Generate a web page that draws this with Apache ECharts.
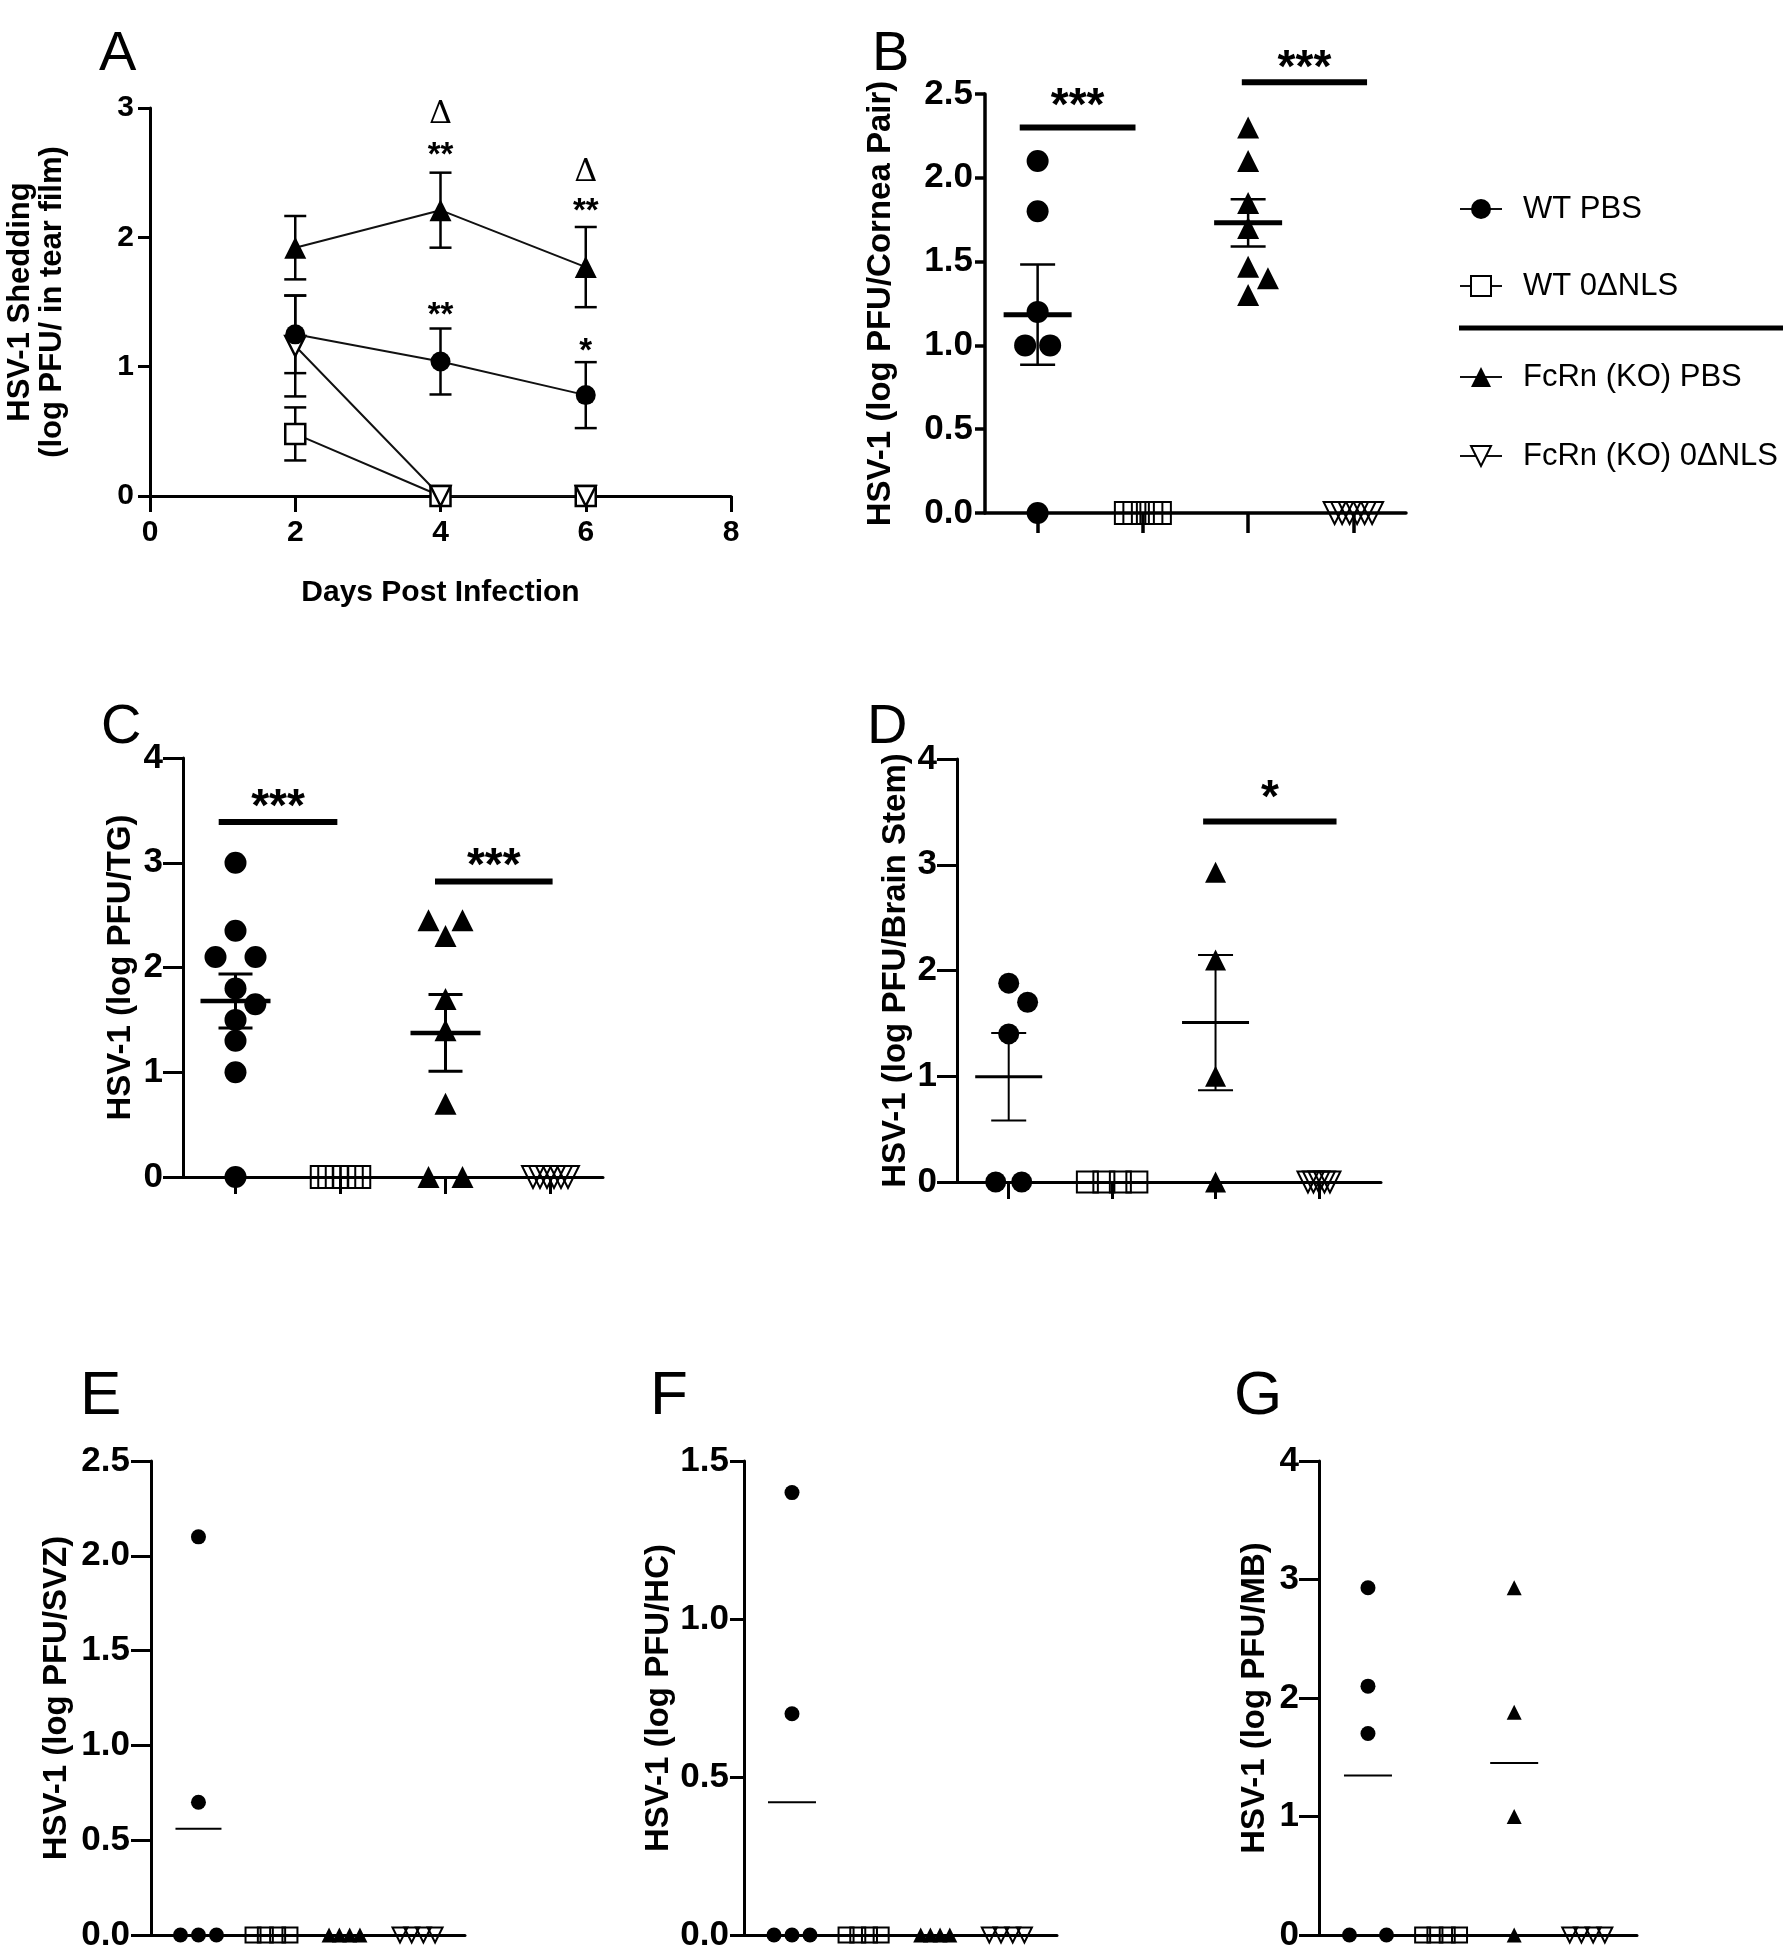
<!DOCTYPE html>
<html><head><meta charset="utf-8">
<script src="https://cdn.jsdelivr.net/npm/echarts@6/dist/echarts.min.js"></script>
<style>html,body{margin:0;padding:0;background:#fff}#c{width:1783px;height:1950px}</style>
</head><body><div id="c"></div>
<script>
// ================= DATA =================
const GROUPS = ['WT PBS', 'WT 0ΔNLS', 'FcRn (KO) PBS', 'FcRn (KO) 0ΔNLS'];

// Panel A: tear-film shedding (mean ± SEM) by day post infection
const A_days = [2, 4, 6];
const A_wtPbs_mean = [1.25, 1.04, 0.78];
const A_wtPbs_sem  = [0.30, 0.255, 0.255];
const A_wtNls_mean = [0.48, 0, 0];
const A_wtNls_sem  = [0.205, 0, 0];
const A_koPbs_mean = [1.92, 2.21, 1.77];
const A_koPbs_sem  = [0.245, 0.29, 0.31];
const A_koNls_mean = [1.16, 0, 0];
const A_koNls_sem  = [0.39, 0, 0];
const A_xTicks = [0, 8, 2];      // min, max, step
const A_yTicks = [0, 3, 1];
const A_marks = [[4, 2.95, 'Δ'], [4, 2.70, '**'], [4, 1.46, '**'], [6, 2.50, 'Δ'], [6, 2.27, '**'], [6, 1.18, '*']];

// Panel B: cornea pair
const B_wtPbs = [2.1, 1.8, 1.2, 1.0, 1.0, 0];
const B_wtNls = [0, 0, 0, 0, 0];
const B_koPbs = [2.3, 2.1, 1.85, 1.7, 1.47, 1.4, 1.3];
const B_koNls = [0, 0, 0, 0, 0, 0];
const B_yTicks = [0, 2.5, 0.5];
const B_sig = [[0.83, 1.93, 2.30, 2.49, '***'], [2.94, 4.13, 2.57, 2.72, '***']];

// Panel C: TG
const C_wtPbs = [3.0, 2.35, 2.1, 2.1, 1.8, 1.65, 1.5, 1.3, 1.0, 0];
const C_wtNls = [0, 0, 0, 0, 0, 0];
const C_koPbs = [2.45, 2.45, 2.3, 1.7, 1.4, 0.7, 0, 0];
const C_koNls = [0, 0, 0, 0, 0, 0];
const C_yTicks = [0, 4, 1];
const C_sig = [[0.84, 1.97, 3.39, 3.63, '***'], [2.90, 4.02, 2.82, 3.07, '***']];

// Panel D: brain stem
const D_wtPbs = [1.88, 1.7, 1.4, 0, 0];
const D_wtNls = [0, 0, 0, 0];
const D_koPbs = [2.93, 2.1, 1.0, 0];
const D_koNls = [0, 0, 0, 0, 0];
const D_yTicks = [0, 4, 1];
const D_sig = [[2.88, 4.17, 3.41, 3.73, '*']];

// Panel E: SVZ
const E_wtPbs = [2.1, 0.7, 0, 0, 0];
const E_wtNls = [0, 0, 0, 0];
const E_koPbs = [0, 0, 0, 0];
const E_koNls = [0, 0, 0, 0];
const E_yTicks = [0, 2.5, 0.5];

// Panel F: HC
const F_wtPbs = [1.4, 0.7, 0, 0, 0];
const F_wtNls = [0, 0, 0, 0];
const F_koPbs = [0, 0, 0, 0];
const F_koNls = [0, 0, 0, 0];
const F_yTicks = [0, 1.5, 0.5];

// Panel G: MB
const G_wtPbs = [2.93, 2.1, 1.7, 0, 0];
const G_wtNls = [0, 0, 0, 0];
const G_koPbs = [2.93, 1.88, 1.0, 0];
const G_koNls = [0, 0, 0, 0];
const G_yTicks = [0, 4, 1];

// ================= LAYOUT / STYLE =================
const FONT = '"Liberation Sans", Arial, Helvetica, sans-serif';
const INV = 'path://M0,0 L20,0 L10,17.3 Z';
const SYMS = ['circle', 'rect', 'triangle', INV];
const OPEN = [false, true, false, true];

// rowStep: horizontal pixel spacing of tied values, per group
const PANELS = [
  {key: 'B', vals: [B_wtPbs, B_wtNls, B_koPbs, B_koNls], ticks: B_yTicks, sig: B_sig, dec: 1,
   title: 'HSV-1 (log PFU/Cornea Pair)', g: {left: 985, top: 94, width: 421, height: 419}, xr: [0.5, 4.5],
   nameGap: 88, size: 22, rowStep: [25, 8.5, 22, 7.5], sem: true, meanW: 68, capW: 35, meanLW: 5, errLW: 2.5,
   axisLW: 3.5, tickLen: 10, xTick: 20, margin: 12},
  {key: 'C', vals: [C_wtPbs, C_wtNls, C_koPbs, C_koNls], ticks: C_yTicks, sig: C_sig, dec: 0,
   title: 'HSV-1 (log PFU/TG)', g: {left: 183, top: 758, width: 420, height: 419}, xr: [0.5, 4.5],
   nameGap: 46, size: 22, rowStep: [40, 7.5, 34, 7], sem: true, meanW: 70, capW: 34, meanLW: 4.5, errLW: 3,
   axisLW: 3, tickLen: 20, xTick: 17, margin: 20},
  {key: 'D', vals: [D_wtPbs, D_wtNls, D_koPbs, D_koNls], ticks: D_yTicks, sig: D_sig, dec: 0,
   title: 'HSV-1 (log PFU/Brain Stem)', g: {left: 957, top: 759, width: 424, height: 423}, xr: [0.5, 4.6],
   nameGap: 45, size: 21, rowStep: [26, 16.5, 22, 5.5], sem: true, meanW: 67, capW: 35, meanLW: 3, errLW: 2,
   axisLW: 3, tickLen: 20, xTick: 17, margin: 20},
  {key: 'E', vals: [E_wtPbs, E_wtNls, E_koPbs, E_koNls], ticks: E_yTicks, sig: [], dec: 1,
   title: 'HSV-1 (log PFU/SVZ)', g: {left: 151, top: 1461, width: 314, height: 474}, xr: [0.35, 4.65],
   nameGap: 78, size: 15, rowStep: [18, 12.3, 10.3, 11.7], sem: false, meanW: 46, capW: 0, meanLW: 2, errLW: 0,
   axisLW: 3, tickLen: 20, xTick: 0, margin: 21},
  {key: 'F', vals: [F_wtPbs, F_wtNls, F_koPbs, F_koNls], ticks: F_yTicks, sig: [], dec: 1,
   title: 'HSV-1 (log PFU/HC)', g: {left: 744, top: 1461, width: 313, height: 474}, xr: [0.33, 4.7],
   nameGap: 69, size: 15, rowStep: [18, 11.7, 9.7, 11.7], sem: false, meanW: 48, capW: 0, meanLW: 2, errLW: 0,
   axisLW: 3, tickLen: 14, xTick: 0, margin: 15},
  {key: 'G', vals: [G_wtPbs, G_wtNls, G_koPbs, G_koNls], ticks: G_yTicks, sig: [], dec: 0,
   title: 'HSV-1 (log PFU/MB)', g: {left: 1319, top: 1461, width: 318, height: 474}, xr: [0.33, 4.68],
   nameGap: 48, size: 15, rowStep: [37, 12.3, 17, 11.7], sem: false, meanW: 48, capW: 0, meanLW: 2, errLW: 0,
   axisLW: 3, tickLen: 20, xTick: 0, margin: 20}
];

function mean(a) { return a.reduce((s, v) => s + v, 0) / a.length; }
function sem(a) {
  const m = mean(a);
  const v = a.reduce((s, x) => s + (x - m) * (x - m), 0) / (a.length - 1);
  return Math.sqrt(v / a.length);
}
// simple beeswarm: horizontal pixel offsets so that markers don't overlap
function swarm(vals, pxY, size, rowStep) {
  const order = vals.map((v, i) => i).sort((a, b) => vals[b] - vals[a]);
  const offs = new Array(vals.length).fill(0);
  const placed = [];
  let i = 0;
  while (i < order.length) {
    let j = i;
    while (j + 1 < order.length && Math.abs(vals[order[j + 1]] - vals[order[i]]) * pxY < 1) j++;
    const n = j - i + 1;
    if (n > 1) {
      for (let k = 0; k < n; k++) {
        const o = (k - (n - 1) / 2) * rowStep;
        offs[order[i + k]] = o;
        placed.push([o, vals[order[i + k]] * pxY]);
      }
    } else {
      const y = vals[order[i]] * pxY;
      let best = 0;
      for (let t = 0; t < 20; t++) {
        const o = t === 0 ? 0 : (t % 2 ? 1 : -1) * Math.ceil(t / 2) * size * 0.9;
        if (placed.every(p => Math.hypot(p[0] - o, p[1] - y) >= size * 0.95)) { best = o; break; }
      }
      offs[order[i]] = best;
      placed.push([best, y]);
    }
    i = j + 1;
  }
  return offs;
}

const grids = [], xAxes = [], yAxes = [], series = [];
const tickFont = {fontFamily: FONT, fontWeight: 'bold', color: '#000'};

// ---------- Panel A ----------
grids.push({left: 150, top: 108, width: 581, height: 388, outerBoundsMode: 'none'});
xAxes.push({gridIndex: 0, type: 'value', min: A_xTicks[0], max: A_xTicks[1], interval: A_xTicks[2],
  axisLine: {show: true, onZero: false, lineStyle: {color: '#000', width: 3}},
  axisTick: {show: true, length: 16, lineStyle: {color: '#000', width: 3}},
  axisLabel: Object.assign({fontSize: 30, margin: 22}, tickFont),
  splitLine: {show: false},
  name: 'Days Post Infection', nameLocation: 'middle', nameGap: 82,
  nameTextStyle: {fontFamily: FONT, fontWeight: 'bold', fontSize: 30, color: '#000'}});
yAxes.push({gridIndex: 0, type: 'value', min: A_yTicks[0], max: A_yTicks[1], interval: A_yTicks[2],
  axisLine: {show: true, lineStyle: {color: '#000', width: 3}},
  axisTick: {show: true, length: 12, lineStyle: {color: '#000', width: 3}},
  axisLabel: Object.assign({fontSize: 30, margin: 16}, tickFont),
  splitLine: {show: false},
  name: 'HSV-1 Shedding\n(log PFU/ in tear film)', nameLocation: 'middle', nameRotate: 90, nameGap: 82,
  nameTextStyle: {fontFamily: FONT, fontWeight: 'bold', fontSize: 31, color: '#000', lineHeight: 32}});

const A_means = [A_wtPbs_mean, A_wtNls_mean, A_koPbs_mean, A_koNls_mean];
const A_sems = [A_wtPbs_sem, A_wtNls_sem, A_koPbs_sem, A_koNls_sem];
const errData = [];
A_means.forEach((m, g) => A_days.forEach((d, i) => errData.push([d, m[i], A_sems[g][i]])));
series.push({type: 'custom', xAxisIndex: 0, yAxisIndex: 0, z: 2, silent: true, data: errData,
  renderItem: function (params, api) {
    const x = api.value(0), m = api.value(1), s = api.value(2);
    if (!(s > 0)) return null;
    const hi = api.coord([x, m + s]), lo = api.coord([x, m - s]);
    const st = {stroke: '#000', lineWidth: 2.5};
    return {type: 'group', children: [
      {type: 'line', shape: {x1: hi[0], y1: hi[1], x2: lo[0], y2: lo[1]}, style: st},
      {type: 'line', shape: {x1: hi[0] - 11, y1: hi[1], x2: hi[0] + 11, y2: hi[1]}, style: st},
      {type: 'line', shape: {x1: lo[0] - 11, y1: lo[1], x2: lo[0] + 11, y2: lo[1]}, style: st}
    ]};
  }});
GROUPS.forEach((name, g) => {
  series.push({type: 'line', name: name, xAxisIndex: 0, yAxisIndex: 0, z: OPEN[g] ? 3 : 4,
    data: A_days.map((d, i) => [d, A_means[g][i]]),
    symbol: SYMS[g], symbolSize: g === 2 ? 22 : 20,
    lineStyle: {color: '#111', width: 2},
    itemStyle: OPEN[g] ? {color: '#fff', borderColor: '#000', borderWidth: 2.5, opacity: 1} : {color: '#000', opacity: 1},
    emphasis: {disabled: true}, animation: false});
});
series.push({type: 'custom', xAxisIndex: 0, yAxisIndex: 0, z: 5, silent: true, data: A_marks.map(m => [m[0], m[1]]),
  renderItem: function (params, api) {
    const p = api.coord([api.value(0), api.value(1)]);
    const t = A_marks[params.dataIndex][2];
    const isD = t === 'Δ';
    return {type: 'text', style: {text: t, x: p[0], y: p[1] + (isD ? 0 : 9), align: 'center', verticalAlign: 'middle',
      font: isD ? '32px "DejaVu Serif", "Liberation Serif", serif' : 'bold 33px ' + FONT, fill: '#000'}};
  }});

// ---------- Panels B-G ----------
PANELS.forEach((P, pi) => {
  const k = pi + 1;
  grids.push(Object.assign({outerBoundsMode: 'none'}, P.g));
  const pxX = P.g.width / (P.xr[1] - P.xr[0]);
  const pxY = P.g.height / P.ticks[1];
  xAxes.push({gridIndex: k, type: 'value', min: P.xr[0], max: P.xr[1],
    axisLine: {show: true, onZero: false, lineStyle: {color: '#000', width: P.axisLW}},
    axisTick: {show: P.xTick > 0, customValues: [1, 2, 3, 4], length: P.xTick, lineStyle: {color: '#000', width: P.axisLW}},
    axisLabel: {show: false}, splitLine: {show: false}});
  yAxes.push({gridIndex: k, type: 'value', min: P.ticks[0], max: P.ticks[1], interval: P.ticks[2],
    axisLine: {show: true, lineStyle: {color: '#000', width: P.axisLW}},
    axisTick: {show: true, length: P.tickLen, lineStyle: {color: '#000', width: P.axisLW}},
    axisLabel: Object.assign({fontSize: 35, margin: P.margin, formatter: v => v.toFixed(P.dec)}, tickFont),
    splitLine: {show: false},
    name: P.title, nameLocation: 'middle', nameRotate: 90, nameGap: P.nameGap,
    nameTextStyle: {fontFamily: FONT, fontWeight: 'bold', fontSize: 33, color: '#000'}});

  const meanData = [];
  P.vals.forEach((vals, g) => {
    const offs = swarm(vals, pxY, P.size, P.rowStep[g]);
    series.push({type: 'scatter', name: P.key + ' ' + GROUPS[g], xAxisIndex: k, yAxisIndex: k, z: 3,
      data: vals.map((v, i) => [g + 1 + offs[i] / pxX, v]),
      symbol: SYMS[g], symbolSize: P.size,
      itemStyle: OPEN[g] ? {color: 'rgba(255,255,255,0)', borderColor: '#000', borderWidth: 2, opacity: 1} : {color: '#000', opacity: 1},
      emphasis: {disabled: true}, animation: false});
    if (!OPEN[g]) meanData.push([g + 1, mean(vals), sem(vals)]);
  });
  series.push({type: 'custom', xAxisIndex: k, yAxisIndex: k, z: 4, silent: true, data: meanData,
    renderItem: function (params, api) {
      const x = api.value(0), m = api.value(1), s = api.value(2);
      const c = api.coord([x, m]);
      const ch = [{type: 'line', shape: {x1: c[0] - P.meanW / 2, y1: c[1], x2: c[0] + P.meanW / 2, y2: c[1]},
        style: {stroke: '#000', lineWidth: P.meanLW}}];
      if (P.sem) {
        const hi = api.coord([x, m + s]), lo = api.coord([x, m - s]);
        const st = {stroke: '#000', lineWidth: P.errLW};
        ch.push({type: 'line', shape: {x1: c[0], y1: hi[1], x2: c[0], y2: lo[1]}, style: st});
        ch.push({type: 'line', shape: {x1: c[0] - P.capW / 2, y1: hi[1], x2: c[0] + P.capW / 2, y2: hi[1]}, style: st});
        ch.push({type: 'line', shape: {x1: c[0] - P.capW / 2, y1: lo[1], x2: c[0] + P.capW / 2, y2: lo[1]}, style: st});
      }
      return {type: 'group', children: ch};
    }});
  if (P.sig.length) {
    series.push({type: 'custom', xAxisIndex: k, yAxisIndex: k, z: 4, silent: true, data: P.sig.map(s => s.slice(0, 4)),
      renderItem: function (params, api) {
        const a = api.coord([api.value(0), api.value(2)]);
        const b = api.coord([api.value(1), api.value(2)]);
        const t = api.coord([(api.value(0) + api.value(1)) / 2, api.value(3)]);
        return {type: 'group', children: [
          {type: 'line', shape: {x1: a[0], y1: a[1], x2: b[0], y2: b[1]}, style: {stroke: '#000', lineWidth: 6}},
          {type: 'text', style: {text: P.sig[params.dataIndex][4], x: t[0], y: t[1] + 12, align: 'center', verticalAlign: 'middle',
            font: 'bold 46px ' + FONT, fill: '#000'}}
        ]};
      }});
  }
});

// ---------- letters & legend divider ----------
const letters = [['A', 99, 27, 56], ['B', 872, 27, 56], ['C', 101, 700, 56], ['D', 867, 700, 56],
                 ['E', 80, 1366, 62], ['F', 650, 1366, 62], ['G', 1234, 1366, 62]];
const graphic = letters.map(l => ({type: 'text', left: l[1], top: l[2], silent: true,
  style: {text: l[0], x: 0, y: 0, align: 'center', verticalAlign: 'middle', font: l[3] + 'px ' + FONT, fill: '#000'}}));
graphic.push({type: 'line', silent: true, shape: {x1: 1459, y1: 328, x2: 1783, y2: 328}, style: {stroke: '#000', lineWidth: 5}});

const legendText = {fontFamily: FONT, fontSize: 31, color: '#000', lineHeight: 36, padding: [0, 0, 0, 16]};
const chart = echarts.init(document.getElementById('c'), null, {renderer: 'canvas'});
chart.setOption({
  backgroundColor: '#fff',
  animation: false,
  grid: grids, xAxis: xAxes, yAxis: yAxes, series: series, graphic: graphic,
  legend: [
    {data: GROUPS.slice(0, 2), orient: 'vertical', left: 1459, top: 191, itemWidth: 42, itemHeight: 25,
     itemGap: 41, padding: 0, selectedMode: false, textStyle: legendText},
    {data: GROUPS.slice(2, 4), orient: 'vertical', left: 1459, top: 359, itemWidth: 42, itemHeight: 25,
     itemGap: 43, padding: 0, selectedMode: false, textStyle: legendText}
  ]
});
</script>
</body></html>
